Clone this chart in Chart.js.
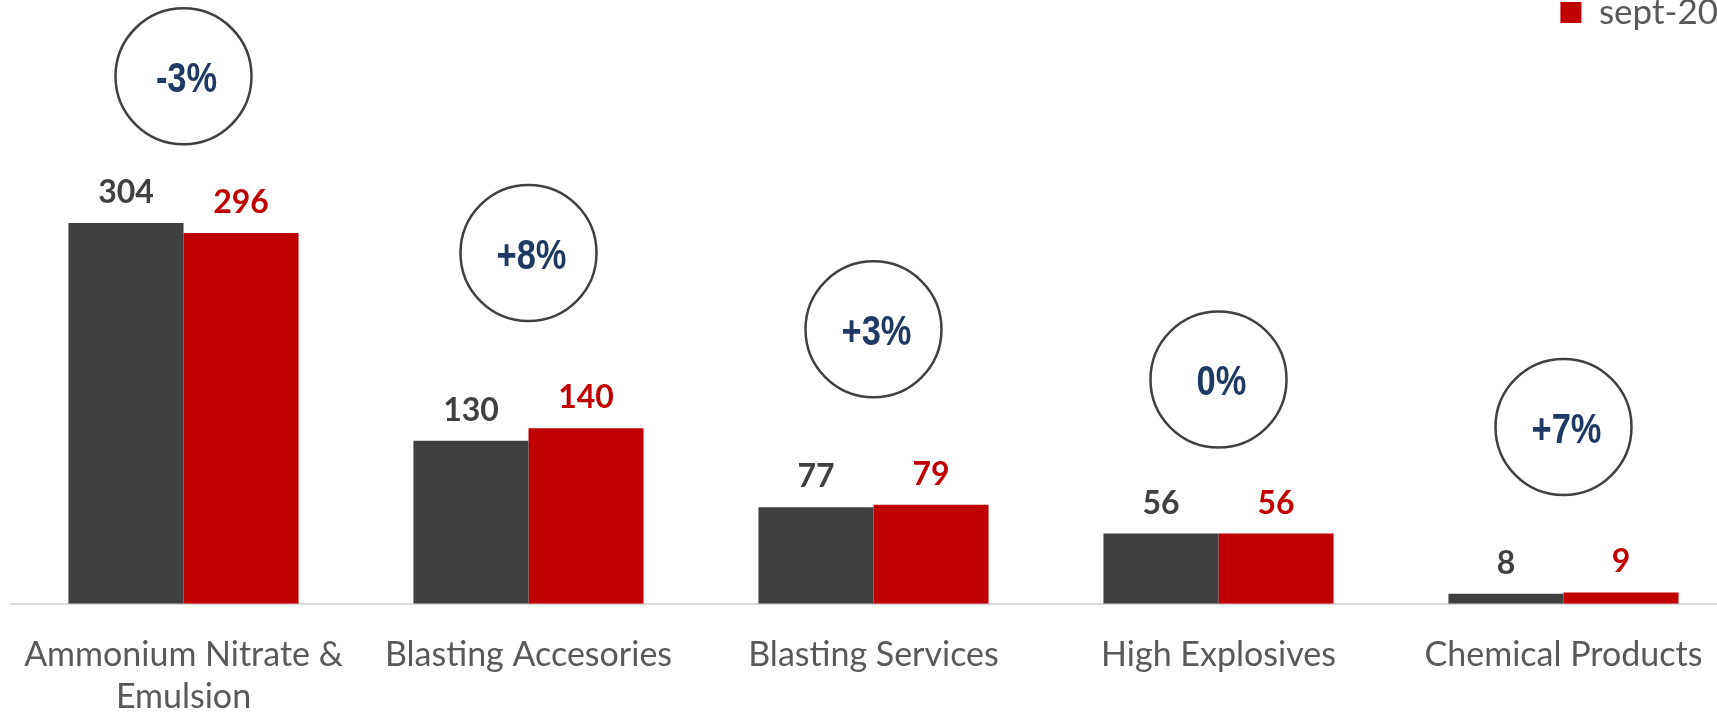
<!DOCTYPE html>
<html>
<head>
<meta charset="utf-8">
<script src="https://cdn.jsdelivr.net/npm/chart.js@4"></script>
<style>
  html, body { margin: 0; padding: 0; background: #fff; overflow: hidden; }
  canvas { display: block; }
</style>
</head>
<body>
<canvas id="myChart" width="1736" height="718"></canvas>
<script>
// categorias y valores
var categories = [['Ammonium Nitrate &', 'Emulsion'], 'Blasting Accesories', 'Blasting Services', 'High Explosives', 'Chemical Products'];
var sept19 = [304, 130, 77, 56, 8];
var sept20 = [296, 140, 79, 56, 9];
var changeLabels = ['-3%', '+8%', '+3%', '0%', '+7%'];
// altura (en unidades del eje) donde va cada circulo
var circleLevel = [421, 280, 219, 179, 141];

var dark = '#404040';
var red = '#C00000';

var labelPlugin = {
    id: 'valueLabels',
    afterDatasetsDraw: function (chart) {
        var ctx = chart.ctx;
        ctx.save();
        ctx.textAlign = 'center';
        ctx.textBaseline = 'alphabetic';
        ctx.font = 'bold 32px Lato';
        [0, 1].forEach(function (di) {
            var meta = chart.getDatasetMeta(di);
            ctx.fillStyle = di === 0 ? dark : red;
            meta.data.forEach(function (bar, i) {
                ctx.fillText(chart.data.datasets[di].data[i], bar.x, bar.y - 20);
            });
        });
        // texto de los circulos, fuente angosta (se comprime Liberation Sans)
        ctx.font = 'bold 42px "Liberation Sans", Arial, sans-serif';
        ctx.fillStyle = '#1F3864';
        chart.getDatasetMeta(2).data.forEach(function (pt, i) {
            ctx.save();
            ctx.translate(pt.x + 3, pt.y + 16);
            ctx.scale(0.82, 1);
            ctx.fillText(changeLabels[i], 0, 0);
            ctx.restore();
        });
        ctx.restore();
    }
};

var ctx = document.getElementById('myChart').getContext('2d');
var myChart = new Chart(ctx, {
    type: 'bar',
    data: {
        labels: categories,
        datasets: [{
            label: 'sept-19',
            data: sept19,
            backgroundColor: dark,
            categoryPercentage: 0.667,
            barPercentage: 1,
            order: 2
        }, {
            label: 'sept-20',
            data: sept20,
            backgroundColor: red,
            categoryPercentage: 0.667,
            barPercentage: 1,
            order: 2
        }, {
            type: 'line',
            label: 'var',
            data: circleLevel,
            showLine: false,
            pointRadius: 68,
            pointHoverRadius: 68,
            pointBackgroundColor: '#fff',
            pointBorderColor: dark,
            pointBorderWidth: 2.5,
            clip: false,
            order: 1
        }]
    },
    options: {
        responsive: false,
        devicePixelRatio: 1,
        animation: false,
        layout: { autoPadding: false, padding: { top: -5, left: 11, right: 0, bottom: 0 } },
        plugins: {
            tooltip: { enabled: false },
            legend: {
                position: 'top',
                align: 'end',
                labels: {
                    generateLabels: function (chart) {
                        var items = Chart.defaults.plugins.legend.labels.generateLabels(chart);
                        return items.filter(function (it) { return it.datasetIndex === 1; })
                            .map(function (it) { it.text = it.text + '  '; return it; });
                    },
                    boxWidth: 21,
                    boxHeight: 21,
                    padding: 0,
                    color: '#595959',
                    font: { family: 'Lato', size: 35 }
                }
            }
        },
        scales: {
            x: {
                // la separacion de las etiquetas va en tickLength para no correr el area
                grid: { display: false, drawTicks: true, tickLength: 30 },
                border: { display: true, color: '#D9D9D9', width: 2 },
                ticks: {
                    color: '#595959',
                    font: { family: 'Lato', size: 34, lineHeight: 1.24 },
                    padding: 0,
                    maxRotation: 0,
                    autoSkip: false
                }
            },
            y: {
                display: false,
                min: 0,
                max: 450
            }
        }
    },
    plugins: [labelPlugin]
});
</script>
</body>
</html>
